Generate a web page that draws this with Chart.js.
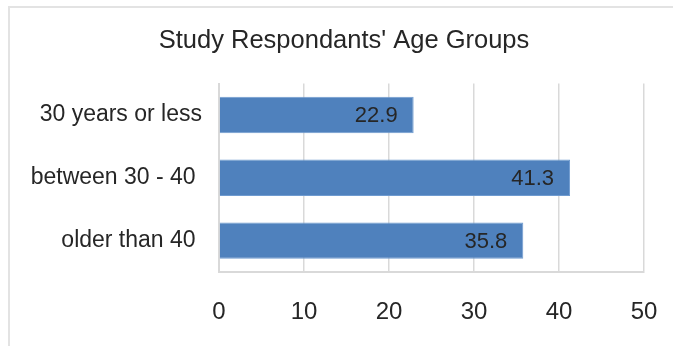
<!DOCTYPE html>
<html>
<head>
<meta charset="utf-8">
<script src="https://cdn.jsdelivr.net/npm/chart.js@4/dist/chart.umd.min.js"></script>
<style>
  html, body { margin: 0; padding: 0; background: #fff; overflow: hidden; }
  #wrap { position: relative; width: 673px; height: 346px; }
  #frame { position: absolute; left: 8px; top: 6px; right: -4px; bottom: -4px;
           border-top: 2px solid #e3e3e3; border-left: 2px solid #e3e3e3; }
  canvas { position: absolute; left: 0; top: 0; }
</style>
</head>
<body>
<div id="wrap">
  <div id="frame"></div>
  <canvas id="ageChart" width="673" height="346"></canvas>
</div>
<script>
// age group shares
const ageGroups = ['30 years or less', 'between 30 - 40 ', 'older than 40 '];
const shares = [22.9, 41.3, 35.8];
const axisTicks = [0, 10, 20, 30, 40, 50];

const textColor = '#262626';
const fontFamily = '"Liberation Sans", Arial, sans-serif';

// value labels drawn inside the end of each bar
const barLabels = {
  id: 'barLabels',
  afterDatasetsDraw(chart) {
    const ctx = chart.ctx;
    const meta = chart.getDatasetMeta(0);
    ctx.save();
    ctx.font = '22px ' + fontFamily;
    ctx.fillStyle = textColor;
    ctx.textAlign = 'right';
    ctx.textBaseline = 'middle';
    meta.data.forEach((bar, i) => {
      ctx.fillText(shares[i].toFixed(1), bar.x - 16, bar.y + 1);
    });
    ctx.restore();
  }
};

// nudge the title a little right of the default centre
const titleShift = {
  id: 'titleShift',
  afterLayout(chart) {
    const t = chart.titleBlock;
    if (t) { t.left += 18; t.right += 18; }
  }
};

new Chart(document.getElementById('ageChart'), {
  type: 'bar',
  data: {
    labels: ageGroups,
    datasets: [{
      data: shares,
      backgroundColor: '#4f81bd',
      borderColor: '#6f9bd0',
      borderWidth: 1,
      barPercentage: 0.58,
      categoryPercentage: 1
    }]
  },
  options: {
    indexAxis: 'y',
    responsive: false,
    animation: false,
    layout: { padding: { left: 8, right: 29, top: 8, bottom: 0 } },
    plugins: {
      legend: { display: false },
      tooltip: { enabled: false },
      title: {
        display: true,
        text: "Study Respondants' Age Groups",
        color: textColor,
        font: { family: fontFamily, size: 25.5, weight: 'normal' },
        padding: { top: 18, bottom: 27 }
      }
    },
    scales: {
      x: {
        min: 0,
        max: 50,
        afterBuildTicks: (scale) => { scale.ticks = axisTicks.map(v => ({ value: v })); },
        grid: { color: '#d9d9d9', lineWidth: 1.5, drawTicks: false },
        border: { color: '#d9d9d9', width: 2 },
        ticks: {
          color: textColor,
          padding: 26,
          font: { family: fontFamily, size: 24 }
        },
        afterFit: (scale) => {
          scale.height = 74;
          scale.paddingLeft = 0;
          scale.paddingRight = 0;
        }
      },
      y: {
        grid: { display: false, drawTicks: false },
        border: { color: '#d9d9d9', width: 2 },
        ticks: {
          color: textColor,
          padding: 17,
          font: { family: fontFamily, size: 23 }
        },
        afterFit: (scale) => { scale.width = 211; }
      }
    }
  },
  plugins: [barLabels, titleShift]
});
</script>
</body>
</html>
